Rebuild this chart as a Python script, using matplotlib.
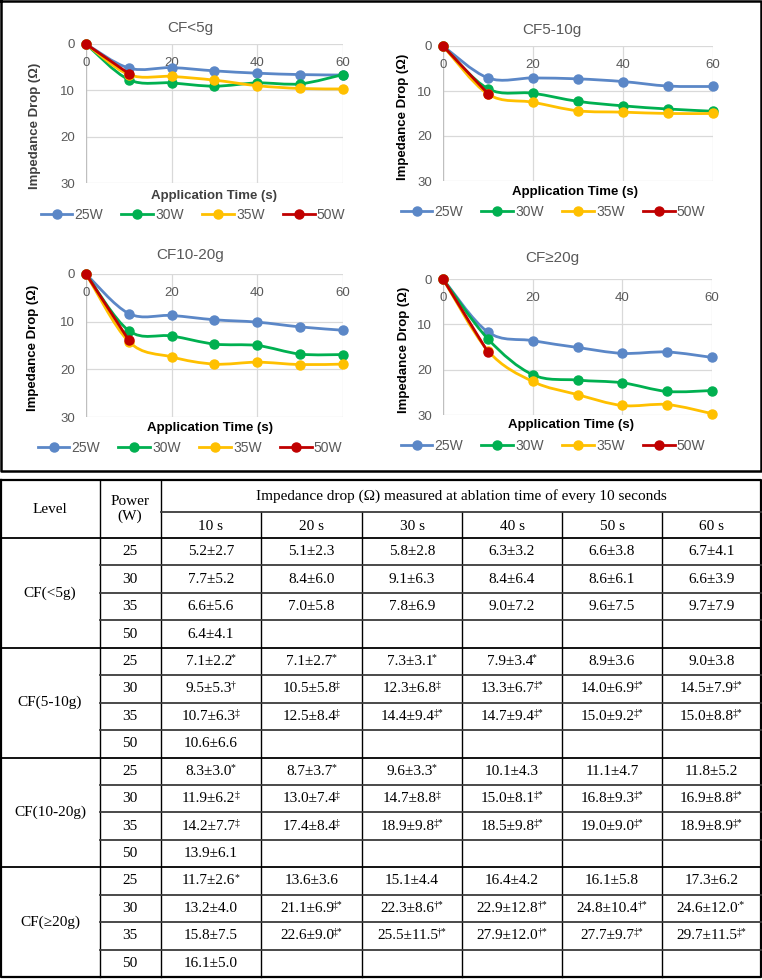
import matplotlib
matplotlib.use('Agg')
import matplotlib.pyplot as plt
import numpy as np
from matplotlib.path import Path
from matplotlib.patches import PathPatch
from matplotlib.lines import Line2D

plt.rcParams['font.family'] = ['Liberation Sans', 'DejaVu Sans']

# Данные
chart_titles = ['CF<5g', 'CF5-10g', 'CF10-20g', 'CF≥20g']
levels = ['CF(<5g)', 'CF(5-10g)', 'CF(10-20g)', 'CF(≥20g)']
powers = [25, 30, 35, 50]
times = [10, 20, 30, 40, 50, 60]
col_labels = ['10 s', '20 s', '30 s', '40 s', '50 s', '60 s']

mean_lt5 = [[5.2, 5.1, 5.8, 6.3, 6.6, 6.7],
            [7.7, 8.4, 9.1, 8.4, 8.6, 6.6],
            [6.6, 7.0, 7.8, 9.0, 9.6, 9.7],
            [6.4]]
sd_lt5 = [[2.7, 2.3, 2.8, 3.2, 3.8, 4.1],
          [5.2, 6.0, 6.3, 6.4, 6.1, 3.9],
          [5.6, 5.8, 6.9, 7.2, 7.5, 7.9],
          [4.1]]
mark_lt5 = [['', '', '', '', '', ''],
            ['', '', '', '', '', ''],
            ['', '', '', '', '', ''],
            ['']]

mean_5_10 = [[7.1, 7.1, 7.3, 7.9, 8.9, 9.0],
             [9.5, 10.5, 12.3, 13.3, 14.0, 14.5],
             [10.7, 12.5, 14.4, 14.7, 15.0, 15.0],
             [10.6]]
sd_5_10 = [[2.2, 2.7, 3.1, 3.4, 3.6, 3.8],
           [5.3, 5.8, 6.8, 6.7, 6.9, 7.9],
           [6.3, 8.4, 9.4, 9.4, 9.2, 8.8],
           [6.6]]
mark_5_10 = [['*', '*', '*', '*', '', ''],
             ['†', '‡', '‡', '‡*', '‡*', '‡*'],
             ['‡', '‡', '‡*', '‡*', '‡*', '‡*'],
             ['']]

mean_10_20 = [[8.3, 8.7, 9.6, 10.1, 11.1, 11.8],
              [11.9, 13.0, 14.7, 15.0, 16.8, 16.9],
              [14.2, 17.4, 18.9, 18.5, 19.0, 18.9],
              [13.9]]
sd_10_20 = [[3.0, 3.7, 3.3, 4.3, 4.7, 5.2],
            [6.2, 7.4, 8.8, 8.1, 9.3, 8.8],
            [7.7, 8.4, 9.8, 9.8, 9.0, 8.9],
            [6.1]]
mark_10_20 = [['*', '*', '*', '', '', ''],
              ['‡', '‡', '‡', '‡*', '‡*', '‡*'],
              ['‡', '‡', '‡*', '‡*', '‡*', '‡*'],
              ['']]

mean_ge20 = [[11.7, 13.6, 15.1, 16.4, 16.1, 17.3],
             [13.2, 21.1, 22.3, 22.9, 24.8, 24.6],
             [15.8, 22.6, 25.5, 27.9, 27.7, 29.7],
             [16.1]]
sd_ge20 = [[2.6, 3.6, 4.4, 4.2, 5.8, 6.2],
           [4.0, 6.9, 8.6, 12.8, 10.4, 12.0],
           [7.5, 9.0, 11.5, 12.0, 9.7, 11.5],
           [5.0]]
mark_ge20 = [['*', '', '', '', '', ''],
             ['', '‡*', '†*', '†*', '†*', '·*'],
             ['', '‡*', '†*', '†*', '‡*', '‡*'],
             ['']]

means = [mean_lt5, mean_5_10, mean_10_20, mean_ge20]
sds = [sd_lt5, sd_5_10, sd_10_20, sd_ge20]
marks = [mark_lt5, mark_5_10, mark_10_20, mark_ge20]

colors = ['#5B87C7', '#00B050', '#FFC000', '#C00000']

W, H = 762, 980
fig = plt.figure(figsize=(W / 100, H / 100), dpi=100)


def fx(x):
    return x / W


def fy(y):
    return 1 - y / H


def smooth_path(x, y):
    # сглаженная линия как в Excel (Безье через точки)
    pts = np.column_stack([x, y]).astype(float)
    n = len(pts)
    verts = [pts[0]]
    codes = [Path.MOVETO]
    for i in range(n - 1):
        p0 = pts[i - 1] if i > 0 else pts[i]
        p1 = pts[i]
        p2 = pts[i + 1]
        p3 = pts[i + 2] if i + 2 < n else pts[i + 1]
        verts += [p1 + (p2 - p0) / 6, p2 - (p3 - p1) / 6, p2]
        codes += [Path.CURVE4] * 3
    return Path(verts, codes)


# положение графиков в пикселях: left, top, right, bottom
boxes = [(86, 44, 343, 183), (443, 46, 713, 181),
         (86, 274, 343, 417), (443, 279, 712, 415)]
title_pos = [(190, 28), (552, 30), (190, 255), (552, 258)]
xlab_pos = [(214, 196), (575, 192), (210, 428), (571, 425)]
ylab_pos = [(35, 126), (403, 117), (33, 348), (404, 350)]
leg_pos = [(193, 215), (553, 212), (190, 448), (553, 446)]
lab_col = ['#404040', 'black', 'black', 'black']

for k in range(4):
    l, t, r, b = boxes[k]
    ax = fig.add_axes([fx(l), fy(b), fx(r - l), (b - t) / H])
    ax.set_xlim(0, 60)
    ax.set_ylim(30, 0)
    ax.set_yticks([0, 10, 20, 30])
    ax.set_xticks([0, 20, 40, 60])
    ax.grid(True, color='#D9D9D9', linewidth=0.9)
    ax.set_axisbelow(True)
    for s in ax.spines.values():
        s.set_visible(False)
    ax.axvline(0, color='#BFBFBF', linewidth=0.9, zorder=1)
    ax.tick_params(axis='both', length=0, labelsize=9.5, labelcolor='#595959')
    ax.tick_params(axis='y', pad=8)
    ax.tick_params(axis='x', labelbottom=False)
    for xt in [0, 20, 40, 60]:
        ax.annotate(str(xt), (xt, 0), xytext=(0, -9), textcoords='offset points',
                    ha='center', va='top', fontsize=9.5, color='#595959')

    for p in range(4):
        xs = [0] + times[:len(means[k][p])]
        ys = [0] + means[k][p]
        ax.add_patch(PathPatch(smooth_path(xs, ys), fill=False, edgecolor=colors[p],
                               linewidth=2.0, clip_on=False, zorder=3 + p))
        ax.plot(xs, ys, linestyle='none', marker='o', markersize=6.5,
                color=colors[p], clip_on=False, zorder=3 + p)

    fig.text(fx(title_pos[k][0]), fy(title_pos[k][1]), chart_titles[k],
             ha='center', va='center', fontsize=11, color='#595959')
    fig.text(fx(xlab_pos[k][0]), fy(xlab_pos[k][1]), 'Application Time (s)',
             ha='center', va='center', fontsize=9.5, fontweight='bold', color=lab_col[k])
    fig.text(fx(ylab_pos[k][0]), fy(ylab_pos[k][1]), 'Impedance Drop (Ω)', rotation=90,
             ha='center', va='center', fontsize=9.5, fontweight='bold', color=lab_col[k])

    handles = [Line2D([], [], color=c, marker='o', markersize=6.5, linewidth=2.0)
               for c in colors]
    fig.legend(handles, [f'{p}W' for p in powers], loc='center',
               bbox_to_anchor=(fx(leg_pos[k][0]), fy(leg_pos[k][1])), ncol=4,
               frameon=False, fontsize=10, labelcolor='#595959', handlelength=2.3,
               handletextpad=0.15, columnspacing=1.3, borderpad=0)

# Таблица
tx = fig.add_axes([0, 0, 1, 1], facecolor='none')
tx.set_xlim(0, W)
tx.set_ylim(H, 0)
tx.axis('off')

# рамка вокруг графиков
tx.plot([1, 761, 761, 1, 1], [1, 1, 471, 471, 1], color='black', linewidth=1.8)

xe = [1, 100, 161, 261, 362, 462, 562, 662, 761]
h_top, h_mid, h_bot, t_bot = 480, 512, 538, 977
rh = (t_bot - h_bot) / 16
serif = ['Liberation Serif', 'DejaVu Serif']
fs = 11

tx.plot([1, 761, 761, 1, 1], [h_top, h_top, t_bot, t_bot, h_top], color='black', linewidth=1.6)
for x in xe[1:-1]:
    y0 = h_mid if x > 161 else h_top
    tx.plot([x, x], [y0, t_bot], color='black', linewidth=1.0)
tx.plot([161, 761], [h_mid, h_mid], color='#3A3A3A', linewidth=1.3)
tx.plot([1, 761], [h_bot, h_bot], color='black', linewidth=1.3)
for r in range(1, 16):
    y = h_bot + r * rh
    if r % 4 == 0:
        tx.plot([1, 761], [y, y], color='black', linewidth=1.3)
    else:
        tx.plot([100, 761], [y, y], color='#3A3A3A', linewidth=1.3)

tx.text(50, (h_top + h_bot) / 2, 'Level', ha='center', va='center', fontsize=fs, family=serif)
tx.text(130, (h_top + h_bot) / 2, 'Power\n(W)', ha='center', va='center', fontsize=fs,
        family=serif, linespacing=1.1)
tx.text((161 + 761) / 2, (h_top + h_mid) / 2,
        'Impedance drop (Ω) measured at ablation time of every 10 seconds',
        ha='center', va='center', fontsize=fs, family=serif)
for j, lab in enumerate(col_labels):
    tx.text((xe[j + 2] + xe[j + 3]) / 2, (h_mid + h_bot) / 2 + 1, lab,
            ha='center', va='center', fontsize=fs, family=serif)

for g in range(4):
    yg = h_bot + g * 4 * rh
    tx.text(50, yg + 2 * rh, levels[g], ha='center', va='center', fontsize=fs, family=serif)
    for p in range(4):
        yc = yg + (p + 0.5) * rh
        tx.text(130, yc, str(powers[p]), ha='center', va='center', fontsize=fs, family=serif)
        for j in range(len(means[g][p])):
            cx = (xe[j + 2] + xe[j + 3]) / 2
            mk = marks[g][p][j]
            main = f'{means[g][p][j]:.1f}±{sds[g][p][j]:.1f}'
            t = tx.text(cx - 2.2 * len(mk), yc, main, ha='center', va='center',
                        fontsize=fs, family=serif)
            if mk:
                tx.annotate(mk, xy=(1, 1.12), xycoords=t, xytext=(-0.8, 0),
                            textcoords='offset points', ha='left', va='top',
                            fontsize=7, family=serif)

fig.savefig('out.png', dpi=100)
